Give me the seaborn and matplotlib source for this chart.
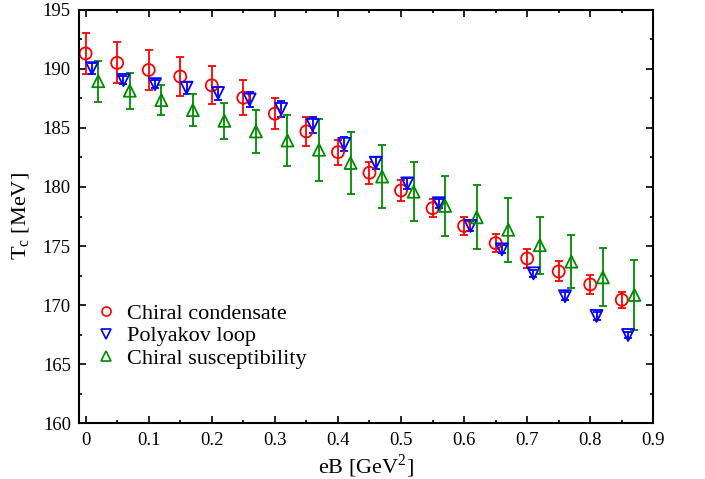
import numpy as np
import pandas as pd
import seaborn as sns
import matplotlib.pyplot as plt
from matplotlib.lines import Line2D
from matplotlib.ticker import MultipleLocator

# Chiral condensate
eb_cond = [0.00, 0.05, 0.10, 0.15, 0.20, 0.25, 0.30, 0.35, 0.40,
           0.45, 0.50, 0.55, 0.60, 0.65, 0.70, 0.75, 0.80, 0.85]
tc_cond = [191.3, 190.5, 189.9, 189.35, 188.6, 187.55, 186.2, 184.7, 182.95,
           181.2, 179.7, 178.2, 176.7, 175.25, 173.95, 172.85, 171.75, 170.45]
err_cond = [1.7, 1.73, 1.7, 1.65, 1.6, 1.47, 1.33, 1.22, 1.06,
            0.93, 0.85, 0.78, 0.78, 0.79, 0.82, 0.85, 0.8, 0.68]

# Polyakov loop
eb_poly = [0.01, 0.06, 0.11, 0.16, 0.21, 0.26, 0.31, 0.36, 0.41,
           0.46, 0.51, 0.56, 0.61, 0.66, 0.71, 0.76, 0.81, 0.86]
tc_poly = [190.05, 189.05, 188.7, 188.4, 187.95, 187.4, 186.6, 185.25, 183.65,
           182.05, 180.3, 178.62, 176.7, 174.72, 172.69, 170.75, 169.08, 167.47]
err_poly = [0.45, 0.35, 0.35, 0.5, 0.55, 0.65, 0.7, 0.7, 0.6,
            0.5, 0.45, 0.4, 0.4, 0.35, 0.3, 0.35, 0.3, 0.25]

# Chiral susceptibility
eb_susc = [0.02, 0.07, 0.12, 0.17, 0.22, 0.27, 0.32, 0.37, 0.42,
           0.47, 0.52, 0.57, 0.62, 0.67, 0.72, 0.77, 0.82, 0.87]
tc_susc = [188.95, 188.15, 187.35, 186.5, 185.6, 184.7, 183.93, 183.15, 182.03,
           180.88, 179.6, 178.4, 177.43, 176.38, 175.07, 173.68, 172.35, 170.86]
err_susc = [1.74, 1.52, 1.3, 1.35, 1.5, 1.8, 2.16, 2.62, 2.65,
            2.7, 2.5, 2.53, 2.7, 2.7, 2.4, 2.25, 2.45, 2.96]

series_names = ["Chiral condensate", "Polyakov loop", "Chiral susceptibility"]
series_colors = {"Chiral condensate": "#ff0000",
                 "Polyakov loop": "#0000ff",
                 "Chiral susceptibility": "#008b00"}
series_markers = {"Chiral condensate": "o",
                  "Polyakov loop": "v",
                  "Chiral susceptibility": "^"}

xticks = [0, 0.1, 0.2, 0.3, 0.4, 0.5, 0.6, 0.7, 0.8, 0.9]
xtick_labels = ["0", "0.1", "0.2", "0.3", "0.4", "0.5", "0.6", "0.7", "0.8", "0.9"]
yticks = [160, 165, 170, 175, 180, 185, 190, 195]

df = pd.concat([
    pd.DataFrame({"eB": eb_cond, "Tc": tc_cond, "err": err_cond, "series": series_names[0]}),
    pd.DataFrame({"eB": eb_poly, "Tc": tc_poly, "err": err_poly, "series": series_names[1]}),
    pd.DataFrame({"eB": eb_susc, "Tc": tc_susc, "err": err_susc, "series": series_names[2]}),
], ignore_index=True)

sns.set_theme(style="ticks", rc={
    "axes.edgecolor": "black",
    "axes.labelcolor": "black",
    "text.color": "black",
    "xtick.color": "black",
    "ytick.color": "black",
})
plt.rcParams["font.family"] = ["Liberation Serif", "DejaVu Serif"]
plt.rcParams["mathtext.fontset"] = "custom"
plt.rcParams["mathtext.rm"] = "Liberation Serif"

fig = plt.figure(figsize=(7.05, 4.79), dpi=100)
ax = fig.add_axes([0.1125, 0.1163, 0.8142, 0.8634])

# error bars first, markers on top
for name in series_names:
    sub = df[df["series"] == name]
    ax.errorbar(sub["eB"], sub["Tc"], yerr=sub["err"], fmt="none",
                ecolor=series_colors[name], elinewidth=1.3,
                capsize=2.8, capthick=1.3, zorder=1)

sns.scatterplot(data=df, x="eB", y="Tc", hue="series", style="series",
                palette=series_colors, markers=series_markers, s=75,
                legend=False, ax=ax, zorder=2)

# hollow symbols
for coll in ax.collections:
    fc = coll.get_facecolors()
    if len(fc) > 1:
        coll.set_edgecolors(fc)
        coll.set_facecolors("none")
        coll.set_linewidths(1.3)

ax.set_xlim(-0.01, 0.9)
ax.set_ylim(160, 195)
ax.set_xticks(xticks)
ax.set_xticklabels(xtick_labels)
ax.set_yticks(yticks)
ax.xaxis.set_minor_locator(MultipleLocator(0.05))
ax.yaxis.set_minor_locator(MultipleLocator(2.5))
ax.tick_params(which="both", direction="in", top=True, right=True,
               width=1.2, labelsize=13.5)
ax.tick_params(which="major", length=5, pad=6)
ax.tick_params(which="minor", length=2.5)
for sp in ax.spines.values():
    sp.set_linewidth(1.5)

ax.set_xlabel(r"eB [GeV$^{\mathregular{2}}$]", fontsize=16, labelpad=3)
ax.set_ylabel(r"T$_{\mathregular{c}}$ [MeV]", fontsize=16, labelpad=8)

handles = [Line2D([], [], ls="none", marker=series_markers[n], ms=6.5,
                  mec=series_colors[n], mfc="none", mew=1.2) for n in series_names]
ax.legend(handles, series_names, loc="upper left", bbox_to_anchor=(0.012, 0.312),
          frameon=False, fontsize=16, handlelength=1.0, handletextpad=0.45,
          labelspacing=0.1, borderaxespad=0)

fig.savefig("out.png", dpi=100)
